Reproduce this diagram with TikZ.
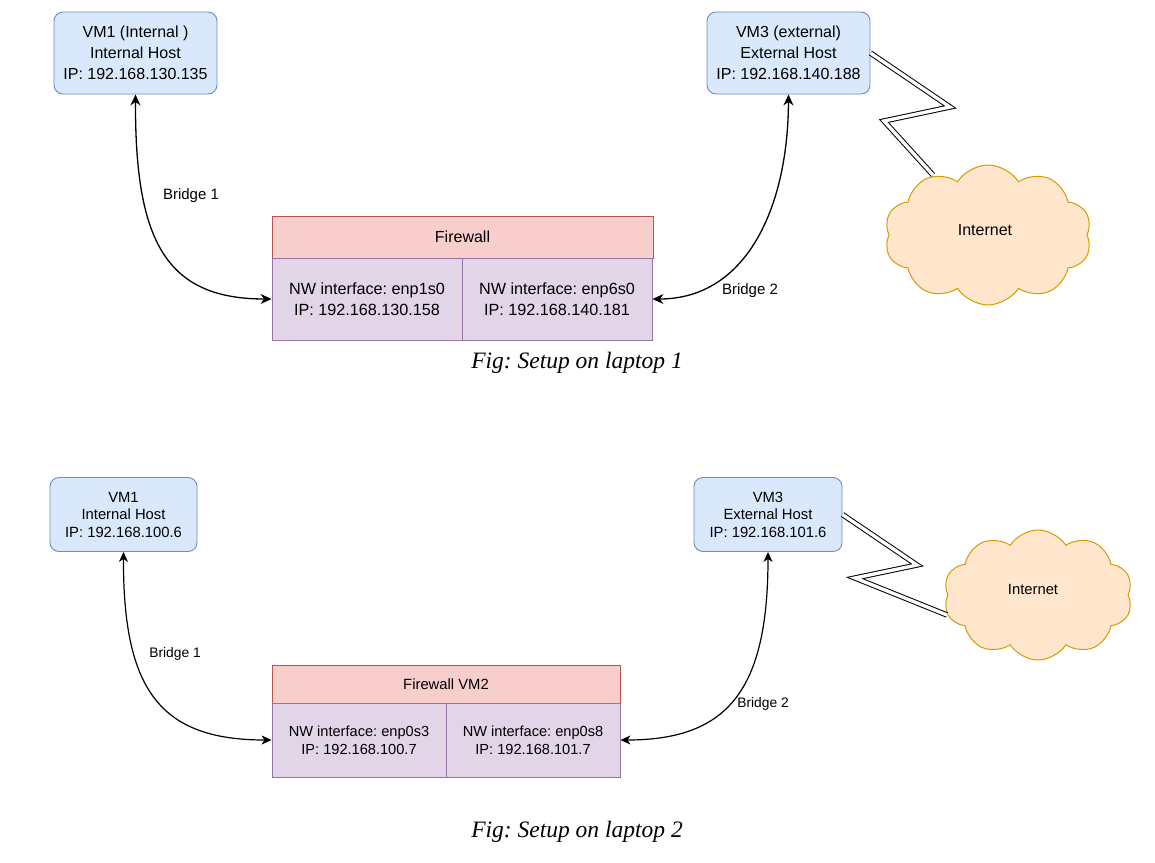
\documentclass[tikz,border=0pt]{standalone}
\usepackage{fontspec}
\setmainfont{Liberation Sans}
\newfontfamily\capfont{Liberation Serif}
\usetikzlibrary{arrows.meta,shapes.symbols}
\definecolor{bfill}{HTML}{DAE8FC}
\definecolor{bdraw}{HTML}{6C8EBF}
\definecolor{pfill}{HTML}{F8CECC}
\definecolor{pdraw}{HTML}{B85450}
\definecolor{vfill}{HTML}{E1D5E7}
\definecolor{vdraw}{HTML}{9673A6}
\definecolor{ofill}{HTML}{FFE6CC}
\definecolor{odraw}{HTML}{D79B00}
\tikzset{
  hostbox/.style={draw=bdraw,fill=bfill,rounded corners=9pt,line width=0.9pt,inner sep=0pt,align=center},
  fwhead/.style={draw=pdraw,fill=pfill,line width=0.9pt,inner sep=0pt,align=center},
  ifbox/.style={draw=vdraw,fill=vfill,line width=0.9pt,inner sep=0pt,align=center},
  netcloud/.style={cloud,cloud puffs=10,cloud puff arc=115,cloud ignores aspect,draw=odraw,fill=ofill,line width=1pt,inner sep=0pt},
  bridge/.style={<->,>={Stealth[length=11pt,width=10pt,inset=3.5pt]},line width=1.3pt},
  bridgesm/.style={<->,>={Stealth[length=10pt,width=9pt,inset=3pt]},line width=1.2pt},
  netlink/.style={double=white,double distance=3.4pt,line width=1pt,line join=miter},
  lbl/.style={inner sep=0pt},
  figcap/.style={inner sep=0pt,font=\capfont\itshape\fontsize{23.5}{26}\selectfont}
}
\begin{document}
\frenchspacing
\begin{tikzpicture}[x=1pt,y=-1pt]
\useasboundingbox (0,0) rectangle (1155,862);
\fill[white] (0,0) rectangle (1155,862);

% ---------- laptop 1 ----------
\node[hostbox,minimum width=163pt,minimum height=82pt,font=\fontsize{16}{21}\selectfont] (vm1) at (135.5,53) {VM1 (Internal )\\Internal Host\\IP: 192.168.130.135};
\node[hostbox,minimum width=163pt,minimum height=82pt,font=\fontsize{16}{21}\selectfont] (vm3) at (788.5,53) {VM3 (external)\\External Host\\IP: 192.168.140.188};
\node[fwhead,minimum width=381pt,minimum height=42pt,font=\fontsize{16}{20}\selectfont] (fw1) at (462.5,237) {Firewall};
\node[ifbox,minimum width=190pt,minimum height=82pt,font=\fontsize{16.2}{21}\selectfont] (if1a) at (367,299) {NW interface: enp1s0\\IP: 192.168.130.158};
\node[ifbox,minimum width=190pt,minimum height=82pt,font=\fontsize{16.2}{21}\selectfont] (if1b) at (557,299) {NW interface: enp6s0\\IP: 192.168.140.181};
\node[figcap] (cap1) at (577,363) {Fig: Setup on laptop 1};
\node[netcloud,minimum width=207pt,minimum height=140pt] (cl1) at (988,235) {};
\node[lbl,font=\fontsize{16}{20}\selectfont] (inet1) at (985,230) {Internet};
\node[lbl,font=\fontsize{15}{18}\selectfont] (b1) at (191,196) {Bridge 1};
\node[lbl,font=\fontsize{15}{18}\selectfont] (b2) at (750,291) {Bridge 2};

\draw[bridge] (vm1.south) .. controls (135,240) and (165,299) .. (if1a.west);
\draw[bridge] (vm3.south) .. controls (788,210) and (745,299) .. (if1b.east);

\coordinate (z1a) at (950,107);
\coordinate (z1b) at (884,121);
\coordinate (z1c) at (933,175);
\draw[netlink] (vm3.east) -- (z1a) -- (z1b) -- (z1c);

% ---------- laptop 2 ----------
\node[hostbox,minimum width=147pt,minimum height=74pt,font=\fontsize{14.8}{17.5}\selectfont] (vm1b) at (123.5,514.5) {VM1\\Internal Host\\IP: 192.168.100.6};
\node[hostbox,minimum width=148pt,minimum height=74pt,font=\fontsize{14.8}{17.5}\selectfont] (vm3b) at (768,514.5) {VM3\\External Host\\IP: 192.168.101.6};
\node[fwhead,minimum width=348pt,minimum height=38pt,font=\fontsize{14.8}{18}\selectfont] (fw2) at (446,684) {Firewall VM2};
\node[ifbox,minimum width=174pt,minimum height=74pt,font=\fontsize{14.6}{18}\selectfont] (if2a) at (359,740) {NW interface: enp0s3\\IP: 192.168.100.7};
\node[ifbox,minimum width=174pt,minimum height=74pt,font=\fontsize{14.6}{18}\selectfont] (if2b) at (533,740) {NW interface: enp0s8\\IP: 192.168.101.7};
\node[figcap] (cap2) at (577,832) {Fig: Setup on laptop 2};
\node[netcloud,minimum width=189pt,minimum height=130pt] (cl2) at (1038,595) {};
\node[lbl,font=\fontsize{14.8}{18}\selectfont] (inet2) at (1033,589) {Internet};
\node[lbl,font=\fontsize{13.8}{17}\selectfont] (b3) at (175,654) {Bridge 1};
\node[lbl,font=\fontsize{13.8}{17}\selectfont] (b4) at (763,704) {Bridge 2};

\draw[bridgesm] (vm1b.south) .. controls (123,690) and (160,740) .. (if2a.west);
\draw[bridgesm] (vm3b.south) .. controls (768,690) and (728,740) .. (if2b.east);

\coordinate (z2a) at (917,565);
\coordinate (z2b) at (855,578);
\coordinate (z2c) at (947,615);
\draw[netlink] (vm3b.east) -- (z2a) -- (z2b) -- (z2c);
\end{tikzpicture}
\end{document}
